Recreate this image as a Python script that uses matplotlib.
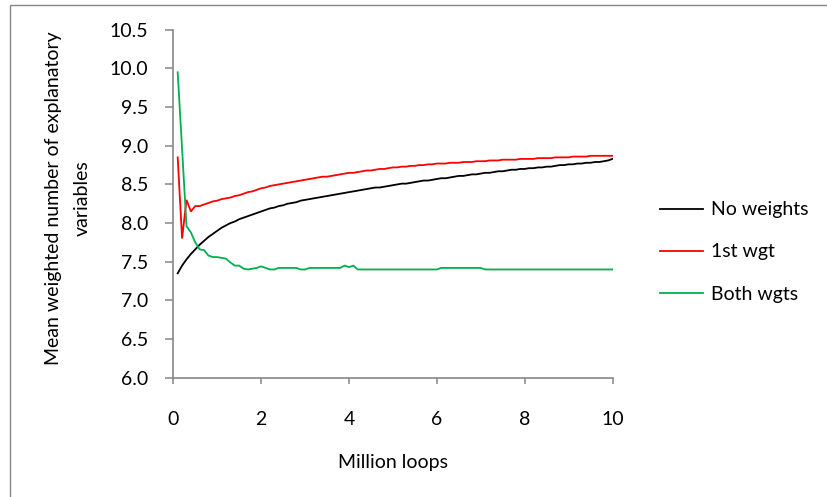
import matplotlib
matplotlib.use("Agg")
import matplotlib.pyplot as plt
from matplotlib.patches import Rectangle

plt.rcParams['font.family'] = ['Lato', 'DejaVu Sans']

# x positions (million loops)
loops = [0.1, 0.2, 0.3, 0.4, 0.5, 0.6, 0.7, 0.8, 0.9, 1.0,
         1.1, 1.2, 1.3, 1.4, 1.5, 1.6, 1.7, 1.8, 1.9, 2.0,
         2.1, 2.2, 2.3, 2.4, 2.5, 2.6, 2.7, 2.8, 2.9, 3.0,
         3.1, 3.2, 3.3, 3.4, 3.5, 3.6, 3.7, 3.8, 3.9, 4.0,
         4.1, 4.2, 4.3, 4.4, 4.5, 4.6, 4.7, 4.8, 4.9, 5.0,
         5.1, 5.2, 5.3, 5.4, 5.5, 5.6, 5.7, 5.8, 5.9, 6.0,
         6.1, 6.2, 6.3, 6.4, 6.5, 6.6, 6.7, 6.8, 6.9, 7.0,
         7.1, 7.2, 7.3, 7.4, 7.5, 7.6, 7.7, 7.8, 7.9, 8.0,
         8.1, 8.2, 8.3, 8.4, 8.5, 8.6, 8.7, 8.8, 8.9, 9.0,
         9.1, 9.2, 9.3, 9.4, 9.5, 9.6, 9.7, 9.8, 9.9, 10.0]

no_weights = [7.35, 7.45, 7.53, 7.60, 7.66, 7.72, 7.77, 7.82, 7.86, 7.90,
              7.94, 7.97, 8.00, 8.02, 8.05, 8.07, 8.09, 8.11, 8.13, 8.15,
              8.17, 8.19, 8.20, 8.22, 8.23, 8.25, 8.26, 8.27, 8.29, 8.30,
              8.31, 8.32, 8.33, 8.34, 8.35, 8.36, 8.37, 8.38, 8.39, 8.40,
              8.41, 8.42, 8.43, 8.44, 8.45, 8.46, 8.46, 8.47, 8.48, 8.49,
              8.50, 8.51, 8.51, 8.52, 8.53, 8.54, 8.55, 8.55, 8.56, 8.57,
              8.58, 8.58, 8.59, 8.60, 8.61, 8.61, 8.62, 8.63, 8.63, 8.64,
              8.65, 8.65, 8.66, 8.67, 8.67, 8.68, 8.69, 8.69, 8.70, 8.70,
              8.71, 8.71, 8.72, 8.72, 8.73, 8.73, 8.74, 8.75, 8.75, 8.76,
              8.76, 8.77, 8.77, 8.78, 8.78, 8.79, 8.79, 8.80, 8.81, 8.83]

first_wgt = [8.85, 7.80, 8.30, 8.15, 8.22, 8.22, 8.24, 8.26, 8.28, 8.29,
             8.31, 8.32, 8.33, 8.35, 8.36, 8.38, 8.40, 8.41, 8.43, 8.45,
             8.46, 8.48, 8.49, 8.50, 8.51, 8.52, 8.53, 8.54, 8.55, 8.56,
             8.57, 8.58, 8.59, 8.60, 8.60, 8.61, 8.62, 8.63, 8.64, 8.65,
             8.65, 8.66, 8.67, 8.68, 8.68, 8.69, 8.70, 8.70, 8.71, 8.72,
             8.72, 8.73, 8.73, 8.74, 8.74, 8.75, 8.75, 8.76, 8.76, 8.77,
             8.77, 8.77, 8.78, 8.78, 8.78, 8.79, 8.79, 8.79, 8.80, 8.80,
             8.80, 8.81, 8.81, 8.81, 8.82, 8.82, 8.82, 8.82, 8.83, 8.83,
             8.83, 8.83, 8.84, 8.84, 8.84, 8.84, 8.85, 8.85, 8.85, 8.85,
             8.86, 8.86, 8.86, 8.86, 8.87, 8.87, 8.87, 8.87, 8.87, 8.87]

both_wgts = [9.95, 8.96, 7.96, 7.88, 7.75, 7.66, 7.65, 7.58, 7.56, 7.56,
             7.55, 7.54, 7.49, 7.45, 7.45, 7.41, 7.40, 7.41, 7.42, 7.44,
             7.42, 7.40, 7.40, 7.42, 7.42, 7.42, 7.42, 7.42, 7.40, 7.40,
             7.42, 7.42, 7.42, 7.42, 7.42, 7.42, 7.42, 7.42, 7.45, 7.43,
             7.45, 7.40, 7.40, 7.40, 7.40, 7.40, 7.40, 7.40, 7.40, 7.40,
             7.40, 7.40, 7.40, 7.40, 7.40, 7.40, 7.40, 7.40, 7.40, 7.40,
             7.42, 7.42, 7.42, 7.42, 7.42, 7.42, 7.42, 7.42, 7.42, 7.42,
             7.40, 7.40, 7.40, 7.40, 7.40, 7.40, 7.40, 7.40, 7.40, 7.40,
             7.40, 7.40, 7.40, 7.40, 7.40, 7.40, 7.40, 7.40, 7.40, 7.40,
             7.40, 7.40, 7.40, 7.40, 7.40, 7.40, 7.40, 7.40, 7.40, 7.40]

series_names = ['No weights', '1st wgt', 'Both wgts']
series_colors = ['#000000', '#FF0000', '#00B050']
y_ticks = [6.0, 6.5, 7.0, 7.5, 8.0, 8.5, 9.0, 9.5, 10.0, 10.5]
x_ticks = [0, 2, 4, 6, 8, 10]

AXIS_GRAY = '#868686'
FS = 14

fig = plt.figure(figsize=(8.27, 4.97), dpi=100)
W, H = 827, 497
ax = fig.add_axes([173.3 / W, 1 - 377.7 / H, (612.5 - 173.3) / W, (377.7 - 29.8) / H])

for ys, name, col in zip([no_weights, first_wgt, both_wgts], series_names, series_colors):
    ax.plot(loops, ys, color=col, lw=1.3, label=name, solid_joinstyle='miter')

ax.set_xlim(0, 10)
ax.set_ylim(6.0, 10.5)
ax.set_xticks(x_ticks)
ax.set_xticklabels([str(t) for t in x_ticks])
ax.set_yticks(y_ticks)
ax.set_yticklabels([f'{t:.1f}' for t in y_ticks])

for s in ['top', 'right']:
    ax.spines[s].set_visible(False)
for s in ['left', 'bottom']:
    ax.spines[s].set_color(AXIS_GRAY)
    ax.spines[s].set_linewidth(1.2)

ax.tick_params(axis='y', length=6, width=1.1, color=AXIS_GRAY, labelsize=FS, pad=12)
ax.tick_params(axis='x', length=4.5, width=1.1, color=AXIS_GRAY, labelsize=FS, pad=19.5)

ax.set_xlabel('Million loops', fontsize=FS, labelpad=18.5)
fig.text(68 / W, 1 - 198 / H, 'Mean weighted number of explanatory\nvariables',
         rotation=90, ha='center', va='center', fontsize=FS, linespacing=1.85,
         multialignment='center')

leg = ax.legend(loc='center left', bbox_to_anchor=(660 / W, 1 - 252 / H),
                bbox_transform=fig.transFigure, frameon=False, fontsize=FS,
                handlelength=2.2, handletextpad=0.4, labelspacing=1.29,
                borderpad=0, borderaxespad=0)

# outer chart border (only left and top edges fall inside the image)
fig.patches.append(Rectangle((10 / W, -0.05), 1.2, 1 - 5 / H + 0.05,
                             transform=fig.transFigure, fill=False,
                             edgecolor=AXIS_GRAY, lw=1.0))

fig.savefig('out.png', dpi=100, facecolor='white')
